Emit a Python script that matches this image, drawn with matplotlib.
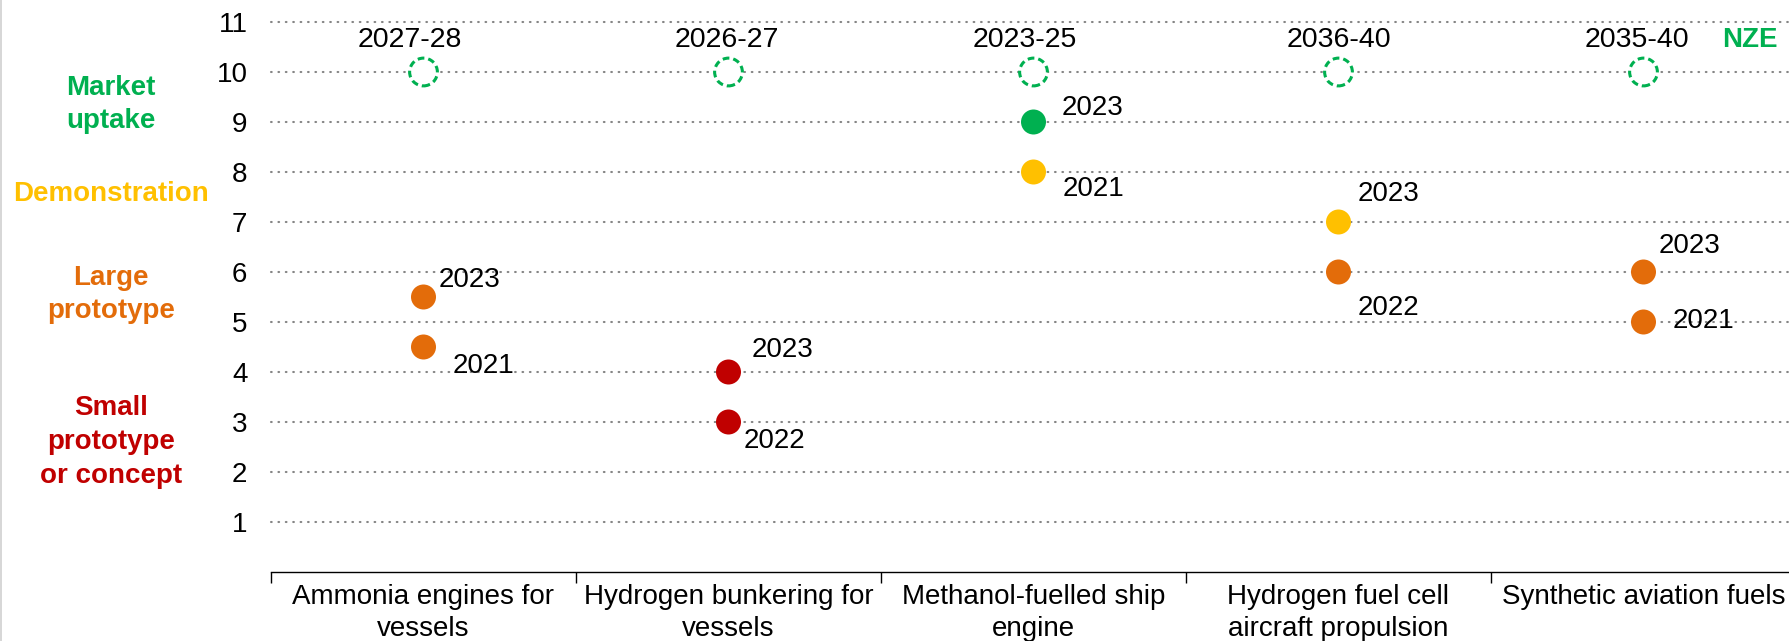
import numpy as np
import matplotlib
matplotlib.use("Agg")
import matplotlib.pyplot as plt
import matplotlib.transforms as mtransforms
from matplotlib.lines import Line2D

# technology readiness levels, earlier and latest assessment
techs = ["Ammonia engines for\nvessels", "Hydrogen bunkering for\nvessels",
         "Methanol-fuelled ship\nengine", "Hydrogen fuel cell\naircraft propulsion",
         "Synthetic aviation fuels"]
nze_years = ["2027-28", "2026-27", "2023-25", "2036-40", "2035-40"]
nze_level = 10
early_years = ["2021", "2022", "2021", "2022", "2021"]
early_trl = [4.5, 3, 8, 6, 5]
late_years = ["2023", "2023", "2023", "2023", "2023"]
late_trl = [5.5, 4, 9, 7, 6]

stage_names = ["Market\nuptake", "Demonstration", "Large\nprototype", "Small\nprototype\nor concept"]

RED, ORANGE, YELLOW, GREEN = "#C00000", "#E36C0A", "#FFC000", "#00B050"
stage_colors = [GREEN, YELLOW, ORANGE, RED]


def stage_color(v):
    if v <= 4:
        return RED
    if v <= 6:
        return ORANGE
    if v <= 8:
        return YELLOW
    return GREEN


plt.rcParams["font.family"] = ["Liberation Sans", "DejaVu Sans"]
plt.rcParams["font.size"] = 20

W, H = 1790, 641
fig = plt.figure(figsize=(W / 100, H / 100), dpi=100)
ax = fig.add_axes([271 / W, (H - 572) / H, 1525 / W, 550 / H])

x = np.arange(len(techs))
ax.set_xlim(-0.5, len(techs) - 0.5)
ax.set_ylim(0, 11)

# dotted guide lines
for lvl in range(1, 12):
    ax.axhline(lvl, color="#858585", lw=1.5, linestyle=(0, (0.35, 3.2)),
               dash_capstyle="round", zorder=1, clip_on=False)

# NZE target circles
ax.scatter(x, [nze_level] * len(x), s=400, facecolors="white", edgecolors=GREEN,
           linewidths=2.2, linestyles=[(0, (2.2, 1.3))], zorder=3, clip_on=False)
nze_shift = [-10, -1, -6, 0, -5]
for xi, yr, dx in zip(x, nze_years, nze_shift):
    ax.annotate(yr, (xi, 10.64), xytext=(dx, 0), textcoords="offset points",
                ha="center", va="center", fontsize=20.5)
ax.text(4.35, 10.64, "NZE", color=GREEN, fontweight="bold", ha="center", va="center")

# assessment points
ax.scatter(x, early_trl, s=324, c=[stage_color(v) for v in early_trl], linewidths=0, zorder=4)
ax.scatter(x, late_trl, s=324, c=[stage_color(v) for v in late_trl], linewidths=0, zorder=4)

early_offsets = [(21, -14), (11, -14), (21, -12), (14, -26), (21, 1)]
late_offsets = [(11, 12), (17, 16), (20, 10), (14, 20), (11, 19)]
for xi, v, yr, off in zip(x, early_trl, early_years, early_offsets):
    ax.annotate(yr, (xi, v), xytext=off, textcoords="offset points", ha="left", va="center", zorder=5)
for xi, v, yr, off in zip(x, late_trl, late_years, late_offsets):
    ax.annotate(yr, (xi, v), xytext=off, textcoords="offset points", ha="left", va="center", zorder=5)

# axes styling
for side in ["left", "top", "right"]:
    ax.spines[side].set_visible(False)
ax.spines["bottom"].set_linewidth(1)
ax.set_yticks(range(1, 12))
ax.tick_params(axis="y", length=0, pad=17)
ax.set_xticks(np.arange(-0.5, len(techs), 1))
ax.set_xticklabels([])
ax.set_xticks(x, minor=True)
ax.set_xticklabels(techs, minor=True, linespacing=1.3)
ax.tick_params(axis="x", which="major", length=8, width=1, direction="out")
ax.tick_params(axis="x", which="minor", length=0, pad=8.5)

# stage names on the left
trans = mtransforms.blended_transform_factory(fig.transFigure, ax.transData)
for name, col, lvl in zip(stage_names, stage_colors, [9.35, 7.55, 5.55, 2.6]):
    ax.text(111 / W, lvl, name, transform=trans, color=col, fontweight="bold",
            ha="center", va="center", multialignment="center", linespacing=1.38)

fig.add_artist(Line2D([0.6 / W, 0.6 / W], [0, 1], transform=fig.transFigure, color="#d0d0d0", lw=1.2))

fig.savefig("out.png", dpi=100)
